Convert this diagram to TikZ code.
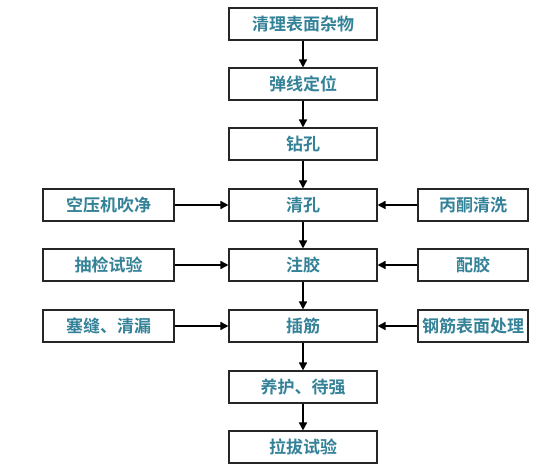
\documentclass[tikz,border=0pt]{standalone}
\usepackage{fontspec}
\newfontfamily\cjk{Noto Sans CJK SC Bold}
\usetikzlibrary{arrows.meta}
\definecolor{txt}{RGB}{52,130,152}
\begin{document}
\begin{tikzpicture}[x=1pt,y=-1pt,
  box/.style={draw=black!85,line width=1.1pt,fill=white,inner sep=0pt,
    font=\cjk\fontsize{17}{18}\selectfont,text=txt},
  cbox/.style={box,minimum width=148pt,minimum height=32pt},
  lbox/.style={box,minimum width=131pt,minimum height=32pt},
  rbox/.style={box,minimum width=110pt,minimum height=32pt},
  arr/.style={line width=1.6pt,-{Triangle[length=8pt,width=8pt]}}]
\useasboundingbox (0,0) rectangle (560,470);
\node[cbox] (c1) at (303,24) {清理表面杂物};
\node[cbox] (c2) at (303,84) {弹线定位};
\node[cbox] (c3) at (303,144) {钻孔};
\node[cbox] (c4) at (303,205) {清孔};
\node[cbox] (c5) at (303,265) {注胶};
\node[cbox] (c6) at (303,326) {插筋};
\node[cbox] (c7) at (303,387) {养护、待强};
\node[cbox] (c8) at (303,447) {拉拔试验};
\node[lbox] (l1) at (108.5,205) {空压机吹净};
\node[lbox] (l2) at (108.5,265) {抽检试验};
\node[lbox] (l3) at (108.5,326) {塞缝、清漏};
\node[rbox] (r1) at (473,205) {丙酮清洗};
\node[rbox] (r2) at (473,265) {配胶};
\node[rbox] (r3) at (473,326) {钢筋表面处理};
\foreach \a/\b in {c1/c2,c2/c3,c3/c4,c4/c5,c5/c6,c6/c7,c7/c8}
  \draw[arr] (\a) -- (\b);
\foreach \a/\b in {l1/c4,l2/c5,l3/c6,r1/c4,r2/c5,r3/c6}
  \draw[arr] (\a) -- (\b);
\end{tikzpicture}
\end{document}
